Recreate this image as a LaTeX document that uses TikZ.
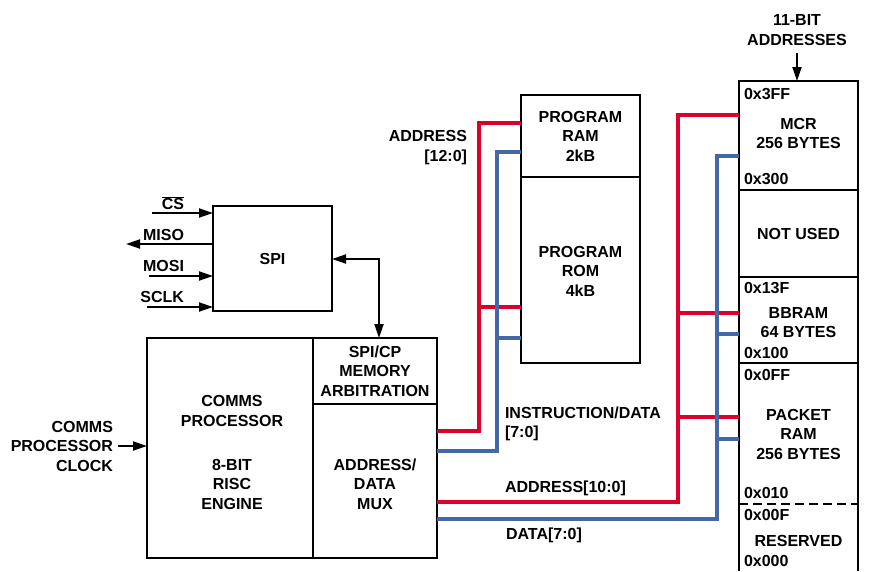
\documentclass[tikz,border=0pt]{standalone}
\usepackage{fontspec}
\setmainfont{Liberation Sans}
\usetikzlibrary{arrows.meta}
\definecolor{busred}{RGB}{220,0,45}
\definecolor{busblue}{RGB}{68,104,165}
\begin{document}
\begin{tikzpicture}[x=1pt,y=-1pt,
  every node/.style={font=\bfseries\fontsize{16}{19.5}\selectfont, align=center, inner sep=0pt, outer sep=0pt},
  box/.style={draw, line width=1.9pt},
  blk/.style={line width=1.9pt},
  bus/.style={line width=3.2pt},
  sig/.style={line width=1.9pt, -{Triangle[length=14pt,width=9pt]}},
  sigb/.style={line width=1.9pt, {Triangle[length=14pt,width=9pt]}-{Triangle[length=14pt,width=9pt]}}]
\useasboundingbox (0,0) rectangle (878,571);

% SPI block
\node[box, minimum width=119pt, minimum height=105pt] (spi) at (272.5,258.5) {SPI};
\node[anchor=east] (cs) at (184,203) {$\overline{\hbox{CS}}$};
\node[anchor=east] (miso) at (184,235) {MISO};
\node[anchor=east] (mosi) at (184,266) {MOSI};
\node[anchor=east] (sclk) at (184,297) {SCLK};
\coordinate (csin) at (152,213);
\coordinate (misoout) at (126,244);
\coordinate (mosiin) at (149,276);
\coordinate (sclkin) at (147,307);
\draw[sig] (csin) -- (spi.west |- csin);
\draw[sig] (spi.west |- misoout) -- (misoout);
\draw[sig] (mosiin) -- (spi.west |- mosiin);
\draw[sig] (sclkin) -- (spi.west |- sclkin);

% Comms processor
\node[box, minimum width=166pt, minimum height=220pt] (cp) at (230,448) {};
\node (cpt1) at (232,411) {COMMS\\PROCESSOR};
\node (cpt2) at (232,484) {8-BIT\\RISC\\ENGINE};
\node[box, minimum width=124pt, minimum height=66pt] (arb) at (375,371) {SPI/CP\\MEMORY\\ARBITRATION};
\node[box, minimum width=124pt, minimum height=154pt] (mux) at (375,481) {};
\node (muxt) at (375,484) {ADDRESS/\\DATA\\MUX};
\node[anchor=east, align=right] (clk) at (113,446) {COMMS\\PROCESSOR\\CLOCK};
\draw[sig] (clk.east) ++(5,0) -- (cp.west |- clk.east);

% SPI <-> arbitration
\coordinate (sa) at (379,259);
\draw[sigb] (spi.east |- sa) -- (sa) -- (arb.north -| sa);

% Program memory
\node[box, minimum width=119pt, minimum height=82pt] (ram) at (580.5,136) {PROGRAM\\RAM\\2kB};
\node[box, minimum width=119pt, minimum height=186pt] (rom) at (580.5,270) {};
\node (romt) at (580.5,271) {PROGRAM\\ROM\\4kB};
\node[anchor=east, align=right] (a12) at (467,147.5) {ADDRESS\\{}[12:0]};

% Memory map
\node[box, minimum width=119pt, minimum height=109pt] (mcr) at (798.5,135.5) {};
\node (mcrt) at (798.5,133.5) {MCR\\256 BYTES};
\node[box, minimum width=119pt, minimum height=87pt] (nu) at (798.5,233.5) {NOT USED};
\node[box, minimum width=119pt, minimum height=86pt] (bb) at (798.5,320) {};
\node (bbt) at (798.5,322.5) {BBRAM\\64 BYTES};
\coordinate (pktnw) at (739,363);
\coordinate (pktne) at (858,363);
\draw[blk] (739,571) -- (pktnw) -- (pktne) -- (858,571);
\draw[blk, dashed, dash pattern=on 9pt off 5pt] (739,504) -- (858,504);
\node (pktt) at (798.5,434) {PACKET\\RAM\\256 BYTES};
\node (rest) at (798.5,541) {RESERVED};
\node[anchor=west] (h1) at (744,94) {0x3FF};
\node[anchor=west] (h2) at (744,179) {0x300};
\node[anchor=west] (h3) at (744,288) {0x13F};
\node[anchor=west] (h4) at (744,353) {0x100};
\node[anchor=west] (h5) at (744,375) {0x0FF};
\node[anchor=west] (h6) at (744,493) {0x010};
\node[anchor=west] (h7) at (744,515) {0x00F};
\node[anchor=west] (h8) at (744,561) {0x000};
\node (a11) at (797,30) {11-BIT\\ADDRESSES};
\coordinate (a11s) at (797,53);
\draw[sig] (a11s) -- (mcr.north -| a11s);

% Buses to program memory
\draw[bus, busred] (mux.east |- 0,431) -- (479,431) -- (479,123) -- (ram.west |- 0,123);
\draw[bus, busred] (479,307) -- (rom.west |- 0,307);
\draw[bus, busblue] (mux.east |- 0,451) -- (497,451) -- (497,152) -- (ram.west |- 0,152);
\draw[bus, busblue] (497,338) -- (rom.west |- 0,338);
\node[anchor=west, align=left] (idl) at (505,424) {INSTRUCTION/DATA\\{}[7:0]};

% Buses to memory map
\draw[bus, busred] (mux.east |- 0,502) -- (678,502) -- (678,115) -- (mcr.west |- 0,115);
\draw[bus, busred] (678,313) -- (bb.west |- 0,313);
\draw[bus, busred] (678,417) -- (pktnw |- 0,417);
\draw[bus, busblue] (mux.east |- 0,519) -- (717,519) -- (717,156) -- (mcr.west |- 0,156);
\draw[bus, busblue] (717,334) -- (bb.west |- 0,334);
\draw[bus, busblue] (717,439) -- (pktnw |- 0,439);
\node[anchor=west] (adl) at (505,488) {ADDRESS[10:0]};
\node[anchor=west] (ddl) at (506,535) {DATA[7:0]};
\end{tikzpicture}
\end{document}
